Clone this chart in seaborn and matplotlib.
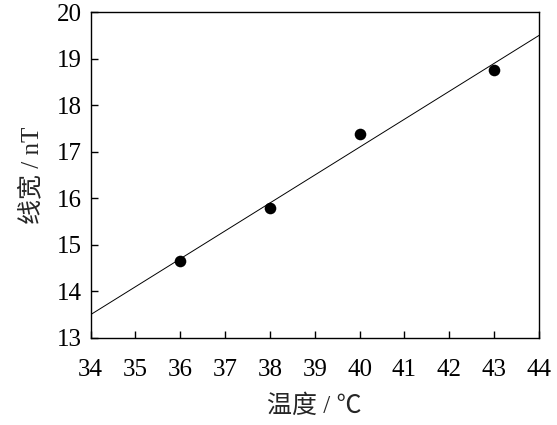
import numpy as np
import pandas as pd
import matplotlib
matplotlib.use("Agg")
import matplotlib.pyplot as plt
import seaborn as sns

# data
temperature = [36, 38, 40, 43]
linewidth_nT = [14.65, 15.8, 17.38, 18.77]
x_ticks = list(range(34, 45))
y_ticks = list(range(13, 21))

df = pd.DataFrame({"temp": temperature, "width": linewidth_nT})

sns.set_style("ticks")
plt.rcParams['font.family'] = ['Liberation Serif', 'Noto Sans CJK SC']
plt.rcParams['axes.unicode_minus'] = False

fig = plt.figure(figsize=(5.57, 4.25), dpi=100)
ax = fig.add_axes([0.1625, 0.205, 0.805, 0.766])
ax.set_xlim(34, 44)
ax.set_ylim(13, 20)

sns.regplot(data=df, x="temp", y="width", ax=ax, ci=None, truncate=False,
            scatter_kws=dict(s=70, color="black", alpha=1, linewidths=0, zorder=3),
            line_kws=dict(color="black", lw=0.7))

ax.set_xlim(34, 44)
ax.set_ylim(13, 20)
ax.set_xticks(x_ticks)
ax.set_yticks(y_ticks)
ax.tick_params(direction="in", length=5, width=1.0, labelsize=18, pad=15, colors="black")
ax.tick_params(axis="y", pad=6)
for s in ax.spines.values():
    s.set_visible(True)
    s.set_linewidth(1.0)
    s.set_color("black")

ax.set_xlabel("温度 / ℃", fontsize=18, labelpad=10)
ax.set_ylabel("线宽 / nT", fontsize=18, labelpad=10)

fig.savefig("out.png", dpi=100, facecolor="white")
